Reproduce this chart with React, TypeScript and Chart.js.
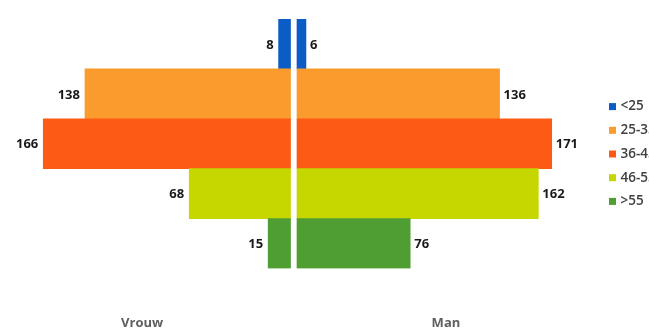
import React, { useEffect, useRef } from "react";
import { Chart, registerables } from "chart.js";

Chart.register(...registerables);

// ---- data ----
const AGE_GROUPS = ["<25", "25-35", "36-45", "46-55", ">55"];
const VROUW = [8, 138, 166, 68, 15];
const MAN = [6, 136, 171, 162, 76];
const SIDES = ["Vrouw", "Man"];
const SIDE_TICKS = [-104, 100]; // positions (in Man-axis units) of the side labels
const COLORS = ["#0b5cc4", "#fb9b2e", "#fd5a15", "#c6d700", "#4f9e31"];

const valueLabels = {
  id: "valueLabels",
  afterDatasetsDraw(chart: any) {
    const ctx = chart.ctx;
    ctx.save();
    ctx.font = "bold 13px 'Open Sans'";
    ctx.fillStyle = "#1a1a1a";
    ctx.textBaseline = "middle";
    chart.data.datasets.forEach((ds: any, di: number) => {
      const meta = chart.getDatasetMeta(di);
      const isLeft = di === 0;
      meta.data.forEach((bar: any, i: number) => {
        ctx.textAlign = isLeft ? "right" : "left";
        ctx.fillText(String(ds.data[i]), isLeft ? bar.x - 5 : bar.x + 4, bar.y + 1);
      });
    });
    ctx.restore();
  },
};

const sideLegend = {
  id: "sideLegend",
  afterDraw(chart: any) {
    const ctx = chart.ctx;
    const area = chart.chartArea;
    ctx.save();
    ctx.font = "600 13.5px 'Open Sans'";
    ctx.textBaseline = "middle";
    ctx.textAlign = "left";
    const x0 = area.right + 32.5;
    const yMid = 154;
    const step = 23.7;
    AGE_GROUPS.forEach((g, i) => {
      const cy = yMid + (i - (AGE_GROUPS.length - 1) / 2) * step;
      ctx.fillStyle = COLORS[i];
      ctx.fillRect(x0, cy - 3.5, 7, 7);
      ctx.fillStyle = "#404040";
      ctx.fillText(g, x0 + 11.5, cy);
    });
    ctx.restore();
  },
};

export default function App() {
  const ref = useRef<HTMLCanvasElement | null>(null);

  useEffect(() => {
    if (!ref.current) return;
    const chart = new Chart(ref.current, {
      type: "bar",
      data: {
        labels: AGE_GROUPS,
        datasets: [
          {
            label: SIDES[0],
            data: VROUW,
            backgroundColor: COLORS,
            xAxisID: "xL",
            stack: "pyr",
            barPercentage: 1,
            categoryPercentage: 1,
            borderWidth: 0,
          },
          {
            label: SIDES[1],
            data: MAN,
            backgroundColor: COLORS,
            xAxisID: "xR",
            stack: "pyr",
            barPercentage: 1,
            categoryPercentage: 1,
            borderWidth: 0,
          },
        ],
      },
      options: {
        indexAxis: "y",
        animation: false,
        responsive: false,
        maintainAspectRatio: false,
        devicePixelRatio: 1,
        layout: { padding: { top: 19, left: 10.5, right: 72.5, bottom: 0 } },
        plugins: {
          legend: { display: false },
          tooltip: { enabled: false },
        },
        scales: {
          y: {
            type: "category",
            stacked: true,
            display: false,
          },
          xL: {
            type: "linear",
            position: "bottom",
            reverse: true,
            min: -192,
            max: 188,
            display: false,
          },
          xR: {
            type: "linear",
            position: "bottom",
            min: -192.35,
            max: 187.65,
            grid: { display: false, drawTicks: false },
            border: { display: false },
            afterBuildTicks: (scale: any) => {
              scale.ticks = SIDE_TICKS.map((v) => ({ value: v }));
            },
            afterFit: (scale: any) => {
              scale.height = 63.5;
            },
            ticks: {
              autoSkip: false,
              maxRotation: 0,
              padding: 47,
              color: "#5f5f5f",
              font: { family: "'Open Sans'", size: 13, weight: "bold" },
              callback: (_v: any, i: number) => SIDES[i],
            },
          },
        },
      },
      plugins: [valueLabels, sideLegend],
    } as any);
    return () => chart.destroy();
  }, []);

  return (
    <div style={{ position: "absolute", left: 0, top: 0, width: 649, height: 332, background: "#fff" }}>
      <canvas ref={ref} width={649} height={332} style={{ display: "block", width: 649, height: 332 }} />
    </div>
  );
}
